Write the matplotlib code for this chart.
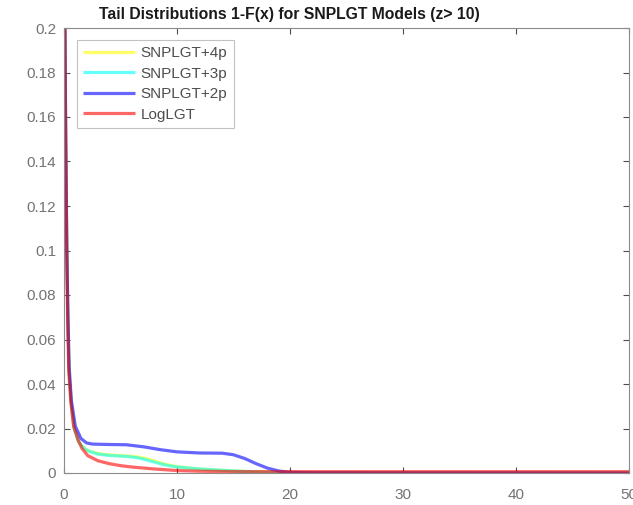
import matplotlib
matplotlib.use("Agg")
import matplotlib.pyplot as plt

plt.rcParams['font.family'] = ['Liberation Sans', 'DejaVu Sans']

# Tail probabilities 1-F(x) for each model
x_log = [0.08, 0.15, 0.24, 0.32, 0.42, 0.6, 0.85, 1.25, 1.6, 2.1, 3, 4, 5, 6, 8, 10, 12, 15, 20, 30, 50]
y_log = [0.2, 0.15, 0.1, 0.07, 0.046, 0.032, 0.021, 0.0148, 0.011, 0.0078, 0.0055, 0.0042, 0.0033,
         0.0027, 0.0018, 0.0011, 0.0008, 0.0006, 0.0006, 0.0006, 0.0006]

x_2p = [0.08, 0.15, 0.25, 0.35, 0.45, 0.65, 1.0, 1.5, 2.0, 2.5, 4, 5.5, 7, 8.5, 10, 12, 14, 15,
        16, 17, 18, 19, 20, 22, 50]
y_2p = [0.2, 0.15, 0.1, 0.07, 0.048, 0.0325, 0.021, 0.0155, 0.0135, 0.013, 0.0128, 0.0127, 0.0118,
        0.0105, 0.0095, 0.009, 0.0089, 0.0082, 0.0065, 0.0042, 0.0022, 0.0009, 0.0003, 0.0001, 0.0]

x_3p = [0.08, 0.15, 0.25, 0.35, 0.45, 0.65, 0.9, 1.3, 1.7, 2.1, 3, 4, 5.5, 6.6, 7.5, 8.8, 10, 12,
        14, 16, 18, 20, 50]
y_3p = [0.2, 0.15, 0.1, 0.07, 0.046, 0.031, 0.02, 0.014, 0.0115, 0.01, 0.0085, 0.0079, 0.0075,
        0.0068, 0.0056, 0.0038, 0.0027, 0.0018, 0.0012, 0.0007, 0.0003, 0.0001, 0.0]

x_4p = x_3p
y_4p = [0.2, 0.15, 0.1, 0.07, 0.046, 0.031, 0.02, 0.014, 0.0115, 0.0101, 0.0087, 0.0081, 0.0077,
        0.0072, 0.0062, 0.0041, 0.0028, 0.0018, 0.0012, 0.0007, 0.0003, 0.0001, 0.0]

series = [
    ("SNPLGT+4p", x_4p, y_4p, (1.0, 1.0, 0.0)),
    ("SNPLGT+3p", x_3p, y_3p, (0.0, 1.0, 1.0)),
    ("SNPLGT+2p", x_2p, y_2p, (0.0, 0.0, 1.0)),
    ("LogLGT", x_log, y_log, (1.0, 0.0, 0.0)),
]

xticks = [0, 10, 20, 30, 40, 50]
yticks = [0, 0.02, 0.04, 0.06, 0.08, 0.1, 0.12, 0.14, 0.16, 0.18, 0.2]
ytick_labels = ["0", "0.02", "0.04", "0.06", "0.08", "0.1", "0.12", "0.14", "0.16", "0.18", "0.2"]

fig = plt.figure(figsize=(6.33, 5.05), dpi=100)
ax = fig.add_axes([64 / 633, 32 / 505, 565 / 633, 445 / 505])

for name, xs, ys, col in series:
    ax.plot(xs, ys, color=col, alpha=0.6, lw=2.3, label=name, solid_capstyle='butt')

ax.set_xlim(0, 50)
ax.set_ylim(0, 0.2)
ax.set_xticks(xticks)
ax.set_yticks(yticks)
ax.set_yticklabels(ytick_labels)

grey = (0.45, 0.45, 0.45)
for sp in ax.spines.values():
    sp.set_color((0.55, 0.55, 0.55))
    sp.set_linewidth(0.8)
ax.tick_params(direction='in', top=True, right=True, length=4, width=0.8,
               colors=(0.3, 0.3, 0.3), labelcolor=grey, labelsize=11)
ax.tick_params(axis='x', pad=11)
ax.tick_params(axis='y', pad=5.5)

fig.text(289 / 633, 1 - 14 / 505, "Tail Distributions 1-F(x) for SNPLGT Models (z> 10)",
         ha='center', va='center', fontsize=11.3, fontweight='bold', color=(0.1, 0.1, 0.1))

leg = ax.legend(loc='upper left', bbox_to_anchor=(13 / 565, 433 / 445), fontsize=11,
                frameon=True, fancybox=False, shadow=False, handlelength=3.4,
                handletextpad=0.35, labelspacing=0.42, borderpad=0.42, borderaxespad=0)
leg.get_frame().set_edgecolor((0.7, 0.7, 0.7))
leg.get_frame().set_linewidth(0.8)
for t in leg.get_texts():
    t.set_color((0.3, 0.3, 0.3))

fig.savefig("out.png", dpi=100)
